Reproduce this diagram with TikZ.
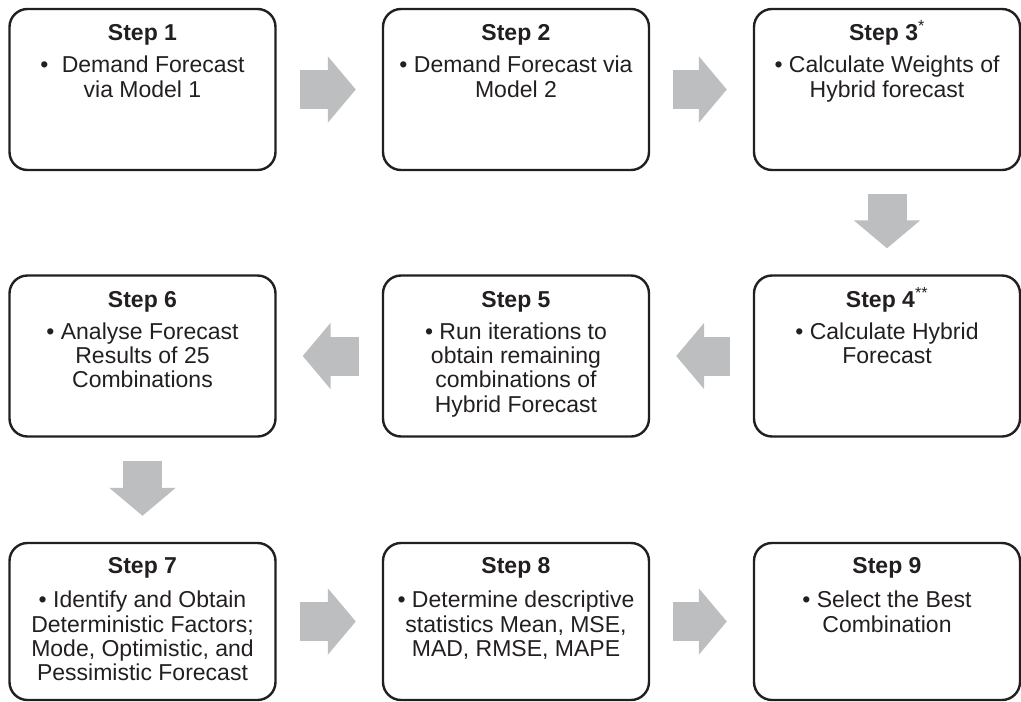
\documentclass[tikz,border=0pt]{standalone}
\usepackage{fontspec}
\setmainfont{Liberation Sans}
\usepackage{tikz}
\usetikzlibrary{calc,arrows.meta}
\definecolor{stepline}{RGB}{35,31,32}
\definecolor{arrowgray}{RGB}{188,190,192}
\tikzset{
  stepbox/.style={draw=stepline, line width=2.4pt, rounded corners=18pt,
    minimum width=266pt, minimum height=161pt, inner sep=0pt},
  steptitle/.style={anchor=base, inner sep=0pt, text=stepline,
    font=\fontsize{23}{24}\selectfont\bfseries},
  stepbody/.style={anchor=base, inner sep=0pt, align=center, text=stepline,
    font=\fontsize{23}{24.3}\selectfont},
  flowarrow/.style={draw=arrowgray, line width=39pt,
    -{Triangle[length=28pt,width=65pt]}, shorten <=23pt, shorten >=26pt}
}

\begin{document}
\begin{tikzpicture}[x=1pt,y=-1pt]
\useasboundingbox (0,0) rectangle (1021,702);

% Boxes
\node[stepbox] (s1) at (142.5,89.5) {};
\node[stepbox] (s2) at (516,89.5) {};
\node[stepbox] (s3) at (887,89.5) {};
\node[stepbox] (s4) at (887,356) {};
\node[stepbox] (s5) at (516,356) {};
\node[stepbox] (s6) at (142.5,356) {};
\node[stepbox, minimum height=157pt] (s7) at (142.5,621.5) {};
\node[stepbox, minimum height=157pt] (s8) at (516,621.5) {};
\node[stepbox, minimum height=157pt] (s9) at (887,621.5) {};

% Titles
\node[steptitle] (t1) at ([yshift=-33pt]s1.north) {Step 1};
\node[steptitle] (t2) at ([yshift=-33pt]s2.north) {Step 2};
\node[steptitle] (t3) at ([yshift=-33pt]s3.north) {Step 3\textsuperscript{\mdseries*}};
\node[steptitle] (t4) at ([yshift=-33pt]s4.north) {Step 4\textsuperscript{\mdseries**}};
\node[steptitle] (t5) at ([yshift=-33pt]s5.north) {Step 5};
\node[steptitle] (t6) at ([yshift=-33pt]s6.north) {Step 6};
\node[steptitle] (t7) at ([yshift=-32pt]s7.north) {Step 7};
\node[steptitle] (t8) at ([yshift=-32pt]s8.north) {Step 8};
\node[steptitle] (t9) at ([yshift=-32pt]s9.north) {Step 9};

% Bullet texts (base = last line)
\node[stepbody] (b1) at ([yshift=-89.3pt]s1.north) {•\hspace{7pt} Demand Forecast\\via Model 1};
\node[stepbody] (b2) at ([yshift=-89.3pt]s2.north) {• Demand Forecast via\\Model 2};
\node[stepbody] (b3) at ([yshift=-89.3pt]s3.north) {• Calculate Weights of\\Hybrid forecast};
\node[stepbody] (b4) at ([yshift=-89.3pt]s4.north) {• Calculate Hybrid\\Forecast};
\node[stepbody] (b5) at ([yshift=-137.9pt]s5.north) {• Run iterations to\\obtain remaining\\combinations of\\Hybrid Forecast};
\node[stepbody] (b6) at ([yshift=-113.6pt]s6.north) {• Analyse Forecast\\Results of 25\\Combinations};
\node[stepbody] (b7) at ([yshift=-138.9pt]s7.north) {• Identify and Obtain\\Deterministic Factors;\\Mode, Optimistic, and\\Pessimistic Forecast};
\node[stepbody] (b8) at ([yshift=-114.6pt]s8.north) {• Determine descriptive\\statistics Mean, MSE,\\MAD, RMSE, MAPE};
\node[stepbody] (b9) at ([yshift=-90.3pt]s9.north) {• Select the Best\\Combination};

% Gray block arrows
\foreach \a/\b in {s1/s2,s2/s3,s3/s4,s4/s5,s5/s6,s6/s7,s7/s8,s8/s9} {
    \draw[flowarrow] (\a) -- (\b);
}
\end{tikzpicture}
\end{document}
